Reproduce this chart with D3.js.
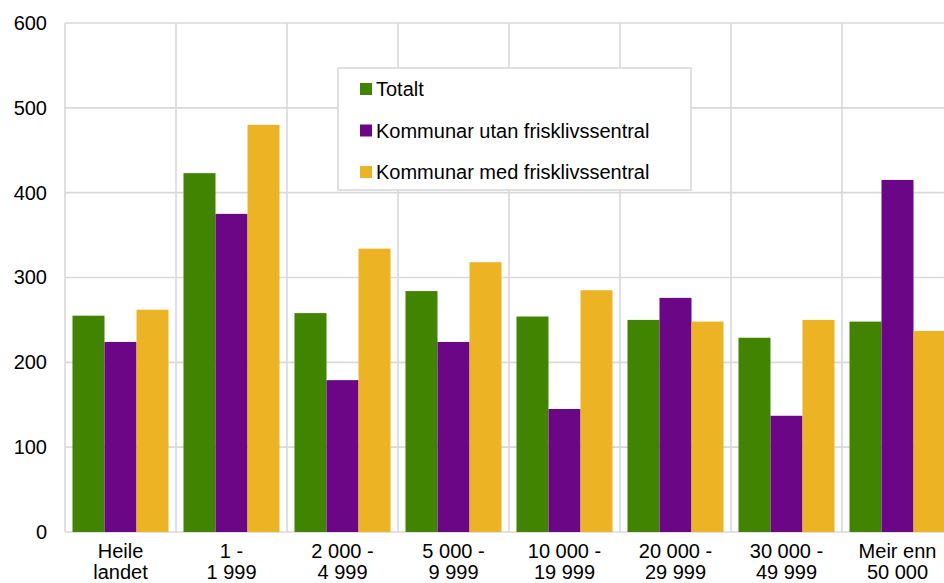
<!DOCTYPE html>
<html>
<head>
<meta charset="utf-8">
<script src="https://cdn.jsdelivr.net/npm/d3@7"></script>
<style>
  html, body { margin: 0; padding: 0; background: #fff; }
  svg { display: block; font-family: "Liberation Sans", Arial, sans-serif; }
</style>
</head>
<body>
<svg id="chart" width="944" height="583"></svg>
<script>
// Category labels (two lines each)
const categories = [
  ["Heile", "landet"],
  ["1 -", "1 999"],
  ["2 000 -", "4 999"],
  ["5 000 -", "9 999"],
  ["10 000 -", "19 999"],
  ["20 000 -", "29 999"],
  ["30 000 -", "49 999"],
  ["Meir enn", "50 000"]
];
const seriesNames = ["Totalt", "Kommunar utan frisklivssentral", "Kommunar med frisklivssentral"];
const totalt = [255, 423, 258, 284, 254, 250, 229, 248];
const utan   = [224, 375, 179, 224, 145, 276, 137, 415];
const med    = [262, 480, 334, 318, 285, 248, 250, 237];
const yTicks = [0, 100, 200, 300, 400, 500, 600];
const colors = ["#418402", "#6b0686", "#ecb425"];

const seriesValues = [totalt, utan, med];
const keys = categories.map((c, i) => i);

const svg = d3.select("#chart");
const plotLeft = 65, plotRight = 953, plotTop = 23, plotBottom = 532;
const gridColor = "#d9d9d9";
const fontSize = 20;

const x = d3.scaleBand().domain(keys).range([plotLeft, plotRight]).paddingInner(0).paddingOuter(0);
const xs = d3.scaleBand().domain([0, 1, 2]).range([0, x.bandwidth()]).paddingInner(0).paddingOuter(0.234);
const y = d3.scaleLinear().domain([0, 600]).range([plotBottom, plotTop]);

// Gridlines
const grid = svg.append("g");
grid.selectAll("line.h").data(yTicks).join("line")
  .attr("class", "h")
  .attr("x1", plotLeft).attr("x2", plotRight)
  .attr("y1", d => y(d)).attr("y2", d => y(d))
  .attr("stroke", gridColor).attr("stroke-width", 1.6);
grid.selectAll("line.v").data(d3.range(categories.length + 1)).join("line")
  .attr("class", "v")
  .attr("x1", i => plotLeft + i * x.step()).attr("x2", i => plotLeft + i * x.step())
  .attr("y1", plotTop).attr("y2", plotBottom)
  .attr("stroke", gridColor).attr("stroke-width", 1.6);

// Bars
const groups = svg.append("g").selectAll("g").data(keys).join("g")
  .attr("transform", i => `translate(${x(i)},0)`);
groups.selectAll("rect")
  .data(i => seriesValues.map((vals, s) => ({ s, v: vals[i] })))
  .join("rect")
  .attr("x", d => xs(d.s))
  .attr("width", xs.bandwidth())
  .attr("y", d => y(d.v))
  .attr("height", d => y(0) - y(d.v))
  .attr("fill", d => colors[d.s]);

// Y axis labels
const yAxis = d3.axisLeft(y).tickValues(yTicks).tickSize(0).tickPadding(0);
const yg = svg.append("g").attr("transform", "translate(47,0)").call(yAxis);
yg.select(".domain").remove();
yg.selectAll("text").attr("font-size", fontSize).attr("fill", "#000")
  .attr("font-family", "Liberation Sans, Arial, sans-serif");

// X axis labels
const xg = svg.append("g");
categories.forEach((lines, i) => {
  const t = xg.append("text")
    .attr("x", x(i) + x.bandwidth() / 2)
    .attr("text-anchor", "middle")
    .attr("font-size", fontSize).attr("fill", "#000");
  lines.forEach((ln, k) => {
    t.append("tspan").attr("x", x(i) + x.bandwidth() / 2)
      .attr("y", 558 + k * 21).text(ln);
  });
});

// Legend
const lg = svg.append("g");
lg.append("rect").attr("x", 338).attr("y", 68).attr("width", 353).attr("height", 122)
  .attr("fill", "#fff").attr("stroke", gridColor).attr("stroke-width", 1.6);
seriesNames.forEach((name, s) => {
  const cy = 89 + s * 41.5;
  lg.append("rect").attr("x", 360).attr("y", cy - 6).attr("width", 12).attr("height", 12)
    .attr("fill", colors[s]);
  lg.append("text").attr("x", 376).attr("y", cy + 7)
    .attr("font-size", fontSize).attr("fill", "#000").text(name);
});
</script>
</body>
</html>
